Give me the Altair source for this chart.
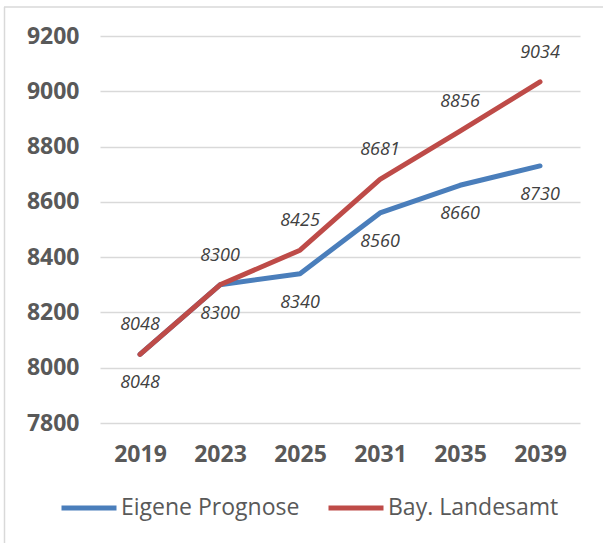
import altair as alt
import pandas as pd

years = ["2019", "2023", "2025", "2031", "2035", "2039"]
eigene = [8048, 8300, 8340, 8560, 8660, 8730]
landesamt = [8048, 8300, 8425, 8681, 8856, 9034]
series_names = ["Eigene Prognose", "Bay. Landesamt"]
y_ticks = [7800, 8000, 8200, 8400, 8600, 8800, 9000, 9200]

df_e = pd.DataFrame({"Jahr": years, "Wert": eigene, "Serie": series_names[0]})
df_l = pd.DataFrame({"Jahr": years, "Wert": landesamt, "Serie": series_names[1]})

FONT = "Open Sans"
colors = ["#4A7EBB", "#BE4B48"]

x_scale = alt.Scale(type="point", padding=0.5, domain=years)
y_scale = alt.Scale(domain=[7800, 9200], nice=False, zero=False)

x_enc = alt.X("Jahr:N", sort=years, title=None, scale=x_scale,
              axis=alt.Axis(labelAngle=0, labelFontSize=23, labelFontWeight="bold",
                            labelColor="#595959", labelFont=FONT, labelPadding=20,
                            domain=False, ticks=False, grid=False))
y_enc = alt.Y("Wert:Q", title=None, scale=y_scale,
              axis=alt.Axis(values=y_ticks, format="d", labelFontSize=23, labelFontWeight="bold",
                            labelColor="#595959", labelFont=FONT, labelPadding=21,
                            domain=False, ticks=False, grid=True, gridColor="#D9D9D9",
                            gridWidth=1.5))
color_enc = alt.Color("Serie:N",
                      scale=alt.Scale(domain=series_names, range=colors),
                      legend=alt.Legend(title=None, orient="none", direction="horizontal",
                                        legendX=-41, legendY=442,
                                        symbolType="stroke", symbolSize=3025,
                                        symbolStrokeWidth=5, labelFontSize=23,
                                        labelFont=FONT, labelColor="#595959",
                                        labelOffset=2, columnPadding=18,
                                        labelLimit=400))

line_e = alt.Chart(df_e).mark_line(strokeWidth=5, strokeCap="round", strokeJoin="round").encode(
    x=x_enc, y=y_enc, color=color_enc)
line_l = alt.Chart(df_l).mark_line(strokeWidth=5, strokeCap="round", strokeJoin="round").encode(
    x=x_enc, y=y_enc, color=color_enc)

text_e = alt.Chart(df_e).mark_text(dy=29, fontSize=18, fontStyle="italic", font=FONT,
                                   color="#404040", baseline="middle").encode(
    x=x_enc, y=y_enc, text=alt.Text("Wert:Q", format="d"))
text_l = alt.Chart(df_l).mark_text(dy=-29, fontSize=18, fontStyle="italic", font=FONT,
                                   color="#404040", baseline="middle").encode(
    x=x_enc, y=y_enc, text=alt.Text("Wert:Q", format="d"))

border_top = alt.Chart(pd.DataFrame({"a": [0]})).mark_rule(color="#D9D9D9", strokeWidth=1.5).encode(
    x=alt.value(-96), x2=alt.value(510), y=alt.value(-29))
border_left = alt.Chart(pd.DataFrame({"a": [0]})).mark_rule(color="#D9D9D9", strokeWidth=1.5).encode(
    x=alt.value(-95.5), y=alt.value(-29), y2=alt.value(520))

chart = alt.layer(border_top, border_left, line_e, line_l, text_e, text_l).properties(
    width=480, height=387,
    autosize=alt.AutoSizeParams(type="none"),
    padding={"left": 100, "top": 36, "right": 23, "bottom": 120},
).configure(
    background="white",
    view=alt.ViewConfig(stroke=None),
    axis=alt.AxisConfig(domain=False),
)

chart.save("out.html", embed_options={"renderer": "svg", "actions": False})
